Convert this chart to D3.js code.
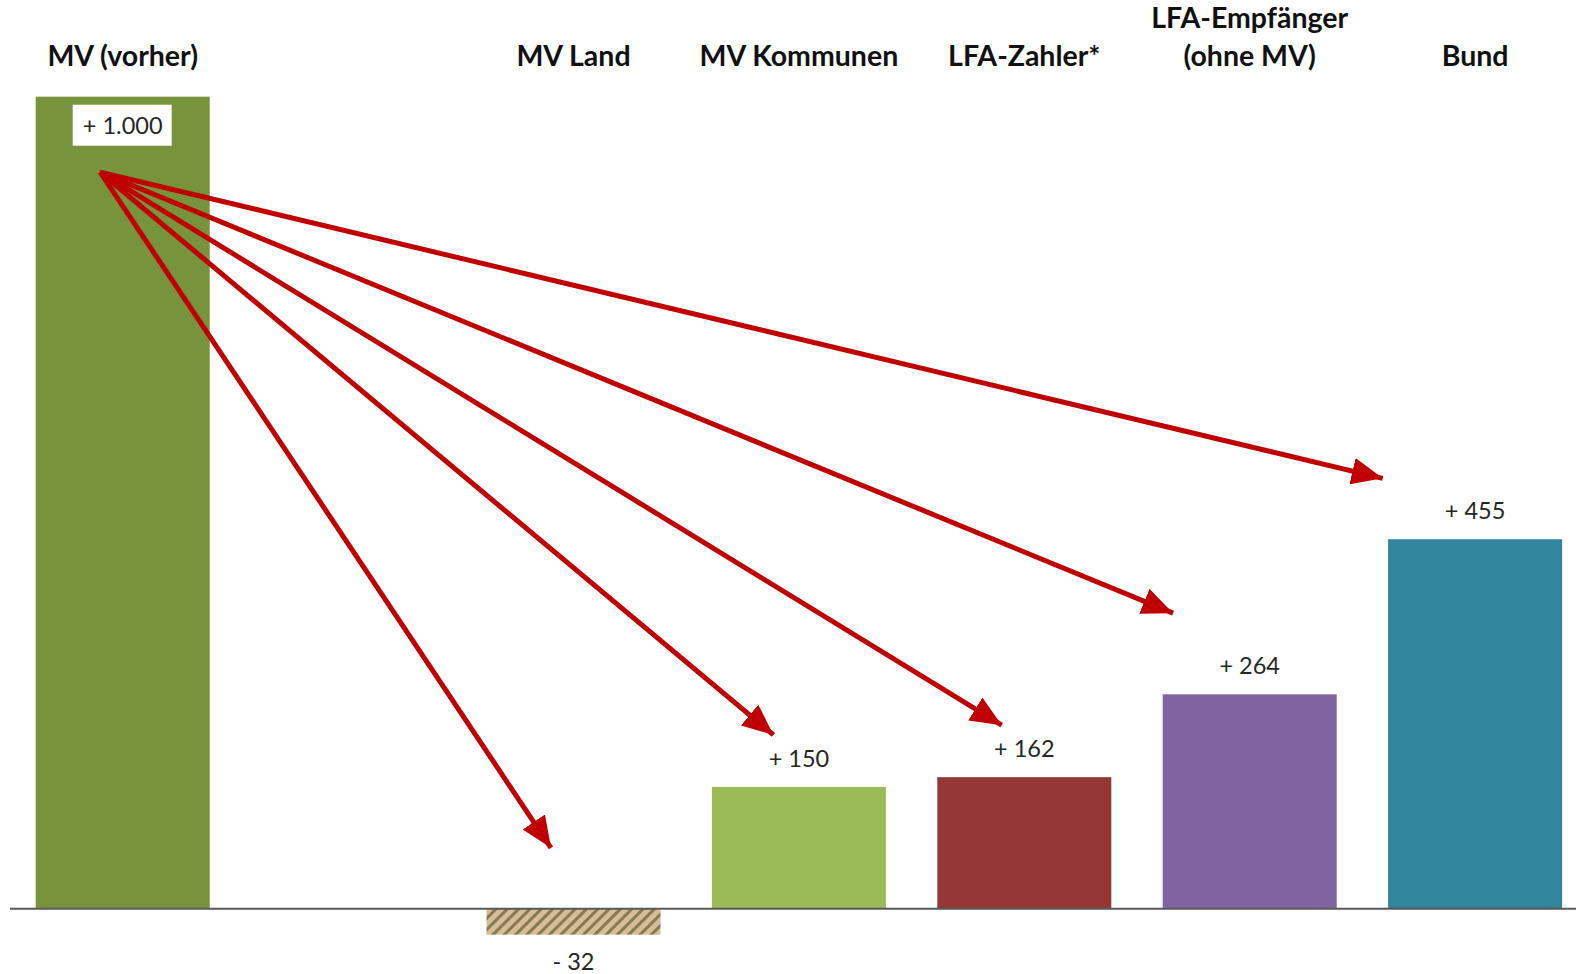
<!DOCTYPE html>
<html>
<head>
<meta charset="utf-8">
<script src="https://cdn.jsdelivr.net/npm/d3@7"></script>
<style>
  html, body { margin: 0; padding: 0; background: #fff; }
  svg { display: block; }
</style>
</head>
<body>
<svg id="chart" width="1576" height="974"></svg>
<script>
// ---- data ----
const categories = ["MV (vorher)", "gap", "MV Land", "MV Kommunen", "LFA-Zahler*", "LFA-Empfänger|(ohne MV)", "Bund"];
const values = [1000, null, -32, 150, 162, 264, 455];
const valueLabels = ["+ 1.000", "", "- 32", "+ 150", "+ 162", "+ 264", "+ 455"];
const barColors = ["#77933C", null, "hatch", "#9BBB59", "#953735", "#8064A2", "#31859C"];

// arrows: from source point to target points (in chart value units)
const arrowSource = { cat: "MV (vorher)", value: 907, shift: -0.1 };
const arrowTargetCats = ["MV Land", "MV Kommunen", "LFA-Zahler*", "LFA-Empfänger|(ohne MV)", "Bund"];
const arrowTargetValues = [75, 214, 226, 364, 530];
const arrowTargetShift = [-0.1, -0.113, -0.1, -0.34, -0.41];

// ---- layout ----
const svg = d3.select("#chart");
const W = 1576;

const x = d3.scaleBand()
  .domain(categories)
  .range([10, 1587.8])
  .paddingInner(0.228)
  .paddingOuter(0.114);

const y = d3.scaleLinear()
  .domain([0, 1000])
  .range([908.7, 96.7]);

const cx = c => x(c) + x.bandwidth() / 2;

// pattern for negative bar
const defs = svg.append("defs");
const pat = defs.append("pattern")
  .attr("id", "hatch")
  .attr("patternUnits", "userSpaceOnUse")
  .attr("width", 8).attr("height", 8)
  .attr("patternTransform", "rotate(45)");
pat.append("rect").attr("width", 8).attr("height", 8).attr("fill", "#D6BC97");
pat.append("rect").attr("x", 0).attr("width", 3).attr("height", 8).attr("fill", "#857A52");

defs.append("marker")
  .attr("id", "arrowhead")
  .attr("markerUnits", "userSpaceOnUse")
  .attr("viewBox", "0 0 31 27")
  .attr("refX", 31).attr("refY", 13.5)
  .attr("markerWidth", 31).attr("markerHeight", 27)
  .attr("orient", "auto")
  .append("path")
  .attr("d", "M0,0 L31,13.5 L0,27 Z")
  .attr("fill", "#C00000");

const data = categories.map((c, i) => ({ cat: c, value: values[i], label: valueLabels[i], color: barColors[i] }))
  .filter(d => d.value !== null);

// bars
svg.append("g").selectAll("rect")
  .data(data)
  .join("rect")
  .attr("x", d => x(d.cat))
  .attr("width", x.bandwidth())
  .attr("y", d => y(Math.max(0, d.value)))
  .attr("height", d => Math.abs(y(d.value) - y(0)))
  .attr("fill", d => d.color === "hatch" ? "url(#hatch)" : d.color);

// baseline axis
svg.append("line")
  .attr("x1", 10).attr("x2", W)
  .attr("y1", y(0)).attr("y2", y(0))
  .attr("stroke", "#595959").attr("stroke-width", 2);

// category labels
const catG = svg.append("g")
  .attr("font-family", "Lato, 'Open Sans', sans-serif")
  .attr("font-weight", "bold")
  .attr("font-size", 28.5)
  .attr("fill", "#111")
  .attr("text-anchor", "middle");
categories.filter(c => c !== "gap").forEach(c => {
  const lines = c.split("|");
  const t = catG.append("text").attr("x", cx(c));
  lines.forEach((ln, j) => {
    t.append("tspan")
      .attr("x", cx(c))
      .attr("y", 66 - (lines.length - 1 - j) * 38)
      .text(ln);
  });
});

// value labels
const valG = svg.append("g")
  .attr("font-family", "Lato, 'Open Sans', sans-serif")
  .attr("font-size", 23.5)
  .attr("fill", "#262626")
  .attr("text-anchor", "middle");
data.forEach((d, i) => {
  if (d.cat === "MV (vorher)") {
    const bx = cx(d.cat);
    valG.append("rect")
      .attr("x", bx - 50).attr("y", y(d.value) + 8)
      .attr("width", 99).attr("height", 41)
      .attr("fill", "#fff");
    valG.append("text").attr("x", bx).attr("y", y(d.value) + 37).text(d.label);
  } else if (d.value < 0) {
    valG.append("text").attr("x", cx(d.cat)).attr("y", y(d.value) + 35).text(d.label);
  } else {
    valG.append("text").attr("x", cx(d.cat)).attr("y", y(d.value) - 20).text(d.label);
  }
});

// arrows
const sx = cx(arrowSource.cat) + arrowSource.shift * x.step();
const sy = y(arrowSource.value);
svg.append("g").selectAll("line")
  .data(arrowTargetCats.map((c, i) => ({ c, v: arrowTargetValues[i], s: arrowTargetShift[i] })))
  .join("line")
  .attr("x1", sx).attr("y1", sy)
  .attr("x2", d => cx(d.c) + d.s * x.step())
  .attr("y2", d => y(d.v))
  .attr("stroke", "#C00000")
  .attr("stroke-width", 5)
  .attr("marker-end", "url(#arrowhead)");
</script>
</body>
</html>
